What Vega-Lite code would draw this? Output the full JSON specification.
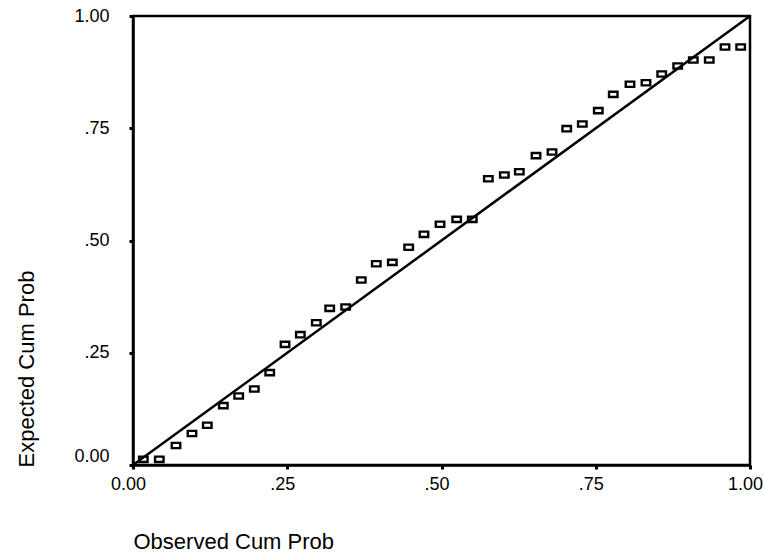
{
  "$schema": "https://vega.github.io/schema/vega-lite/v6.json",
  "width": 617,
  "height": 449,
  "autosize": "none",
  "padding": {"left": 133, "top": 16, "right": 14, "bottom": 90},
  "background": "white",
  "config": {
    "view": {"stroke": "black", "strokeWidth": 2.5},
    "font": "Liberation Sans",
    "axis": {
      "grid": false,
      "domainColor": "black",
      "domainWidth": 2.5,
      "tickColor": "black",
      "tickWidth": 3,
      "tickSize": 4,
      "labelColor": "black",
      "labelFont": "Liberation Sans",
      "labelFontSize": 18,
      "titleFont": "Liberation Sans",
      "titleFontSize": 22,
      "titleFontWeight": "normal",
      "titleColor": "black"
    }
  },
  "datasets": {
    "points": [
      {"observed": 0.0167, "expected": 0.0127},
      {"observed": 0.0426, "expected": 0.0127},
      {"observed": 0.0697, "expected": 0.0434},
      {"observed": 0.0956, "expected": 0.0702},
      {"observed": 0.1204, "expected": 0.0886},
      {"observed": 0.1464, "expected": 0.1321},
      {"observed": 0.1713, "expected": 0.1537},
      {"observed": 0.1966, "expected": 0.1693},
      {"observed": 0.2216, "expected": 0.2056},
      {"observed": 0.2464, "expected": 0.2688},
      {"observed": 0.2712, "expected": 0.2902},
      {"observed": 0.2971, "expected": 0.3169},
      {"observed": 0.3188, "expected": 0.3490},
      {"observed": 0.3447, "expected": 0.3519},
      {"observed": 0.3700, "expected": 0.4120},
      {"observed": 0.3943, "expected": 0.4483},
      {"observed": 0.4203, "expected": 0.4514},
      {"observed": 0.4468, "expected": 0.4849},
      {"observed": 0.4716, "expected": 0.5138},
      {"observed": 0.4976, "expected": 0.5361},
      {"observed": 0.5246, "expected": 0.5472},
      {"observed": 0.5499, "expected": 0.5472},
      {"observed": 0.5759, "expected": 0.6376},
      {"observed": 0.6018, "expected": 0.6459},
      {"observed": 0.6261, "expected": 0.6532},
      {"observed": 0.6532, "expected": 0.6889},
      {"observed": 0.6791, "expected": 0.6971},
      {"observed": 0.7029, "expected": 0.7490},
      {"observed": 0.7282, "expected": 0.7595},
      {"observed": 0.7541, "expected": 0.7891},
      {"observed": 0.7784, "expected": 0.8256},
      {"observed": 0.8055, "expected": 0.8479},
      {"observed": 0.8314, "expected": 0.8514},
      {"observed": 0.8569, "expected": 0.8708},
      {"observed": 0.8828, "expected": 0.8886},
      {"observed": 0.9081, "expected": 0.9020},
      {"observed": 0.9340, "expected": 0.9020},
      {"observed": 0.9595, "expected": 0.9310},
      {"observed": 0.9849, "expected": 0.9310}
    ],
    "diag": [
      {"observed": 0, "expected": 0},
      {"observed": 1, "expected": 1}
    ]
  },
  "layer": [
    {
      "data": {"name": "diag"},
      "mark": {"type": "line", "color": "black", "strokeWidth": 2.5},
      "encoding": {
        "x": {"field": "observed", "type": "quantitative"},
        "y": {"field": "expected", "type": "quantitative"}
      }
    },
    {
      "data": {"name": "points"},
      "mark": {
        "type": "point",
        "shape": "M-1,-0.62H1V0.62H-1Z",
        "size": 72,
        "filled": false,
        "stroke": "black",
        "strokeWidth": 2.4,
        "opacity": 1
      },
      "encoding": {
        "x": {
          "field": "observed",
          "type": "quantitative",
          "scale": {"domain": [0, 1], "nice": false, "zero": false},
          "axis": {
            "title": "Observed Cum Prob",
            "values": [0, 0.25, 0.5, 0.75, 1],
            "labelExpr": "datum.value == 0 || datum.value == 1 ? format(datum.value, '.2f') : slice(format(datum.value, '.2f'), 1)",
            "labelFlush": false,
            "labelOffset": -5,
            "labelPadding": 6,
            "labelBaseline": "top",
            "titleX": 0,
            "titleY": 83,
            "titleAlign": "left",
            "titleBaseline": "alphabetic",
            "titleAnchor": "start"
          }
        },
        "y": {
          "field": "expected",
          "type": "quantitative",
          "scale": {"domain": [0, 1], "nice": false, "zero": false},
          "axis": {
            "title": "Expected Cum Prob",
            "values": [0, 0.25, 0.5, 0.75, 1],
            "labelExpr": "datum.value == 0 || datum.value == 1 ? format(datum.value, '.2f') : slice(format(datum.value, '.2f'), 1)",
            "labelFlush": false,
            "labelPadding": 20,
            "labelAlign": "right",
            "labelBaseline": {"condition": {"test": "datum.value == 0", "value": "bottom"}, "value": "middle"},
            "titleAngle": -90,
            "titleX": -100,
            "titleY": 451,
            "titleAlign": "left",
            "titleBaseline": "alphabetic",
            "titleAnchor": "start"
          }
        }
      }
    }
  ]
}
